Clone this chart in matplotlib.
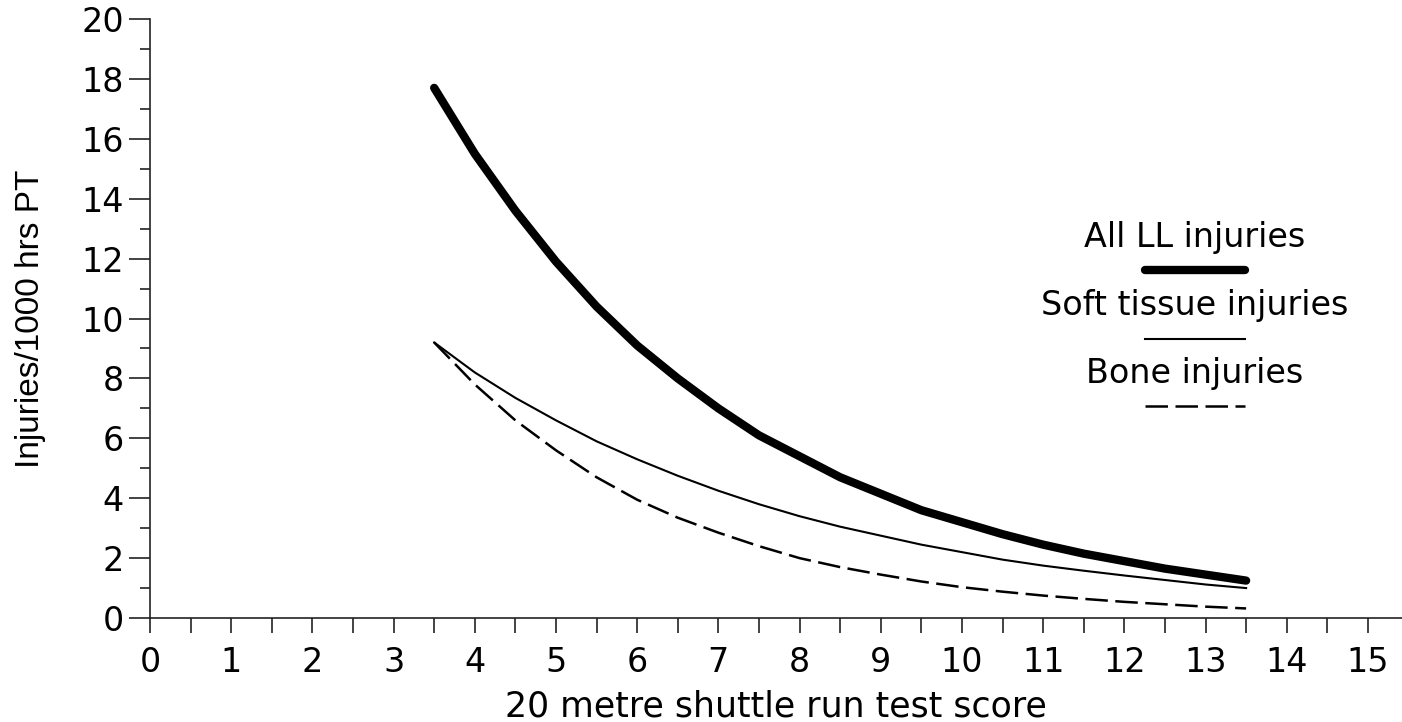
import numpy as np
import matplotlib.pyplot as plt
from matplotlib.ticker import MultipleLocator

plt.rcParams['font.family'] = ['DejaVu Sans']

# values
score = [3.5, 4, 4.5, 5, 5.5, 6, 6.5, 7, 7.5, 8, 8.5, 9, 9.5, 10, 10.5, 11, 11.5, 12, 12.5, 13, 13.5]
all_ll = [17.7, 15.5, 13.6, 11.9, 10.4, 9.1, 8.0, 7.0, 6.1, 5.4, 4.7, 4.15, 3.6, 3.2, 2.8, 2.45, 2.15, 1.9, 1.65, 1.45, 1.25]
soft = [9.2, 8.2, 7.35, 6.6, 5.9, 5.3, 4.75, 4.25, 3.8, 3.4, 3.05, 2.75, 2.45, 2.2, 1.95, 1.75, 1.58, 1.42, 1.27, 1.12, 1.0]
bone = [9.2, 7.8, 6.6, 5.6, 4.7, 3.95, 3.35, 2.85, 2.4, 2.0, 1.7, 1.45, 1.22, 1.03, 0.88, 0.75, 0.64, 0.54, 0.46, 0.38, 0.32]

legend_labels = ['All LL injuries', 'Soft tissue injuries', 'Bone injuries']

fig = plt.figure(figsize=(14.02, 7.22), dpi=100)
ax = fig.add_axes([0.107, 0.144, 0.893, 0.8297])

ax.plot(score, all_ll, color='black', lw=6, solid_capstyle='round')
ax.plot(score, soft, color='black', lw=1.5)
ax.plot(score, bone, color='black', lw=1.8, dashes=(9, 3))

# hand-made legend in the plot area
fs = 24
lx = [12.25, 13.49]
ax.text(12.87, 12.7, legend_labels[0], ha='center', va='center', fontsize=fs)
ax.plot(lx, [11.62, 11.62], color='black', lw=6, solid_capstyle='round')
ax.text(12.87, 10.45, legend_labels[1], ha='center', va='center', fontsize=fs)
ax.plot(lx, [9.32, 9.32], color='black', lw=1.5)
ax.text(12.87, 8.18, legend_labels[2], ha='center', va='center', fontsize=fs)
ax.plot(lx, [7.08, 7.08], color='black', lw=1.8, dashes=(9, 3))

ax.set_xlim(0, 15.42)
ax.set_ylim(0, 20)
ax.xaxis.set_major_locator(MultipleLocator(1))
ax.xaxis.set_minor_locator(MultipleLocator(0.5))
ax.yaxis.set_major_locator(MultipleLocator(2))
ax.yaxis.set_minor_locator(MultipleLocator(1))

for s in ['top', 'right']:
    ax.spines[s].set_visible(False)
for s in ['left', 'bottom']:
    ax.spines[s].set_linewidth(1.2)
    ax.spines[s].set_color('#222222')

ax.tick_params(axis='x', which='both', direction='out', length=11, width=1.2, color='#222222', labelsize=fs, pad=9)
ax.tick_params(axis='y', which='major', direction='out', length=15, width=1.2, color='#222222', labelsize=fs, pad=4)
ax.tick_params(axis='y', which='minor', direction='out', length=7, width=1.2, color='#222222')

ax.set_xlabel('20 metre shuttle run test score', fontsize=25)
ax.xaxis.set_label_coords(0.5, -0.12)
ax.set_ylabel('Injuries/1000 hrs PT', fontsize=24,
              family=['Liberation Sans Narrow', 'Liberation Sans', 'DejaVu Sans'])
ax.yaxis.set_label_coords(-0.083, 0.5)

fig.savefig('out.png', dpi=100)
